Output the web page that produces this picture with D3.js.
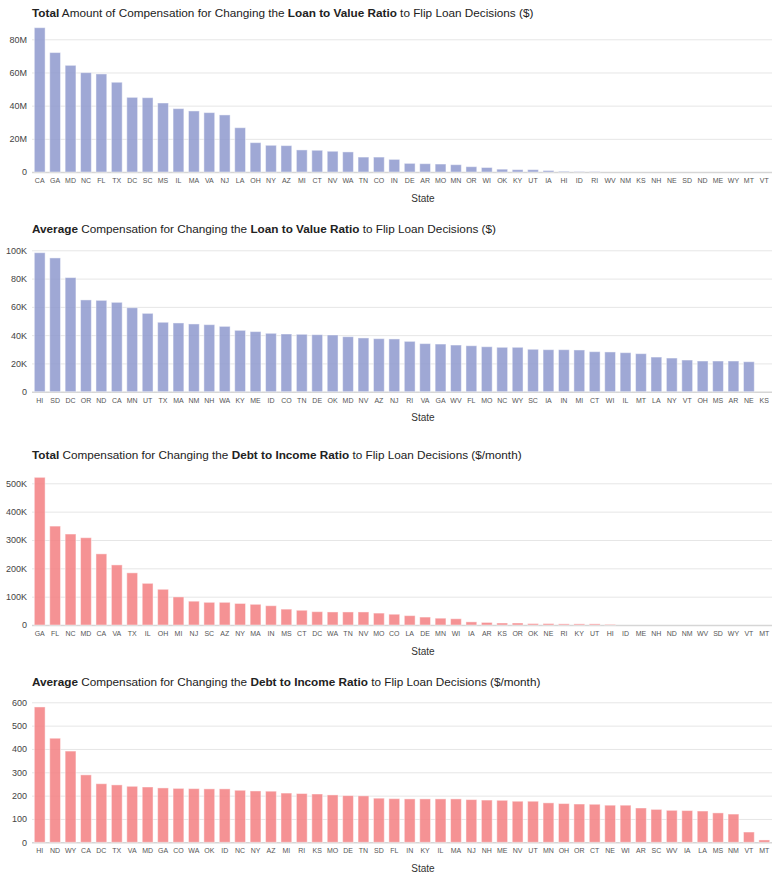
<!DOCTYPE html>
<html>
<head>
<meta charset="utf-8">
<script src="https://cdn.jsdelivr.net/npm/d3@7"></script>
<style>
  html, body { margin: 0; padding: 0; background: #fff; }
  svg { display: block; font-family: "Liberation Sans", Arial, Helvetica, sans-serif; }
</style>
</head>
<body>
<svg id="chart" width="781" height="876"></svg>
<script>
// ---------- DATA ----------
const ltvTotalStates = ["CA","GA","MD","NC","FL","TX","DC","SC","MS","IL","MA","VA","NJ","LA","OH","NY","AZ","MI","CT","NV","WA","TN","CO","IN","DE","AR","MO","MN","OR","WI","OK","KY","UT","IA","HI","ID","RI","WV","NM","KS","NH","NE","SD","ND","ME","WY","MT","VT"];
const ltvTotalValues = [87.0e6,72.0e6,64.3e6,59.9e6,59.1e6,54.1e6,45.0e6,44.8e6,41.6e6,38.2e6,36.8e6,35.8e6,34.4e6,26.7e6,17.7e6,16.1e6,15.9e6,13.3e6,13.1e6,12.5e6,12.1e6,9.0e6,9.0e6,7.6e6,5.2e6,5.0e6,4.8e6,4.4e6,3.2e6,2.7e6,1.7e6,1.4e6,1.4e6,0.9e6,0.4e6,0.2e6,0.2e6,0,0,0,0,0,0,0,0,0,0,0];
const ltvTotalTicks = [0, 20e6, 40e6, 60e6, 80e6];
const ltvTotalTickLabels = ["0","20M","40M","60M","80M"];

const ltvAvgStates = ["HI","SD","DC","OR","ND","CA","MN","UT","TX","MA","NM","NH","WA","KY","ME","ID","CO","TN","DE","OK","MD","NV","AZ","NJ","RI","VA","GA","WV","FL","MO","NC","WY","SC","IA","IN","MI","CT","WI","IL","MT","LA","NY","VT","OH","MS","AR","NE","KS"];
const ltvAvgValues = [98.3e3,94.6e3,80.7e3,64.9e3,64.6e3,63.2e3,59.4e3,55.4e3,49.1e3,48.6e3,47.9e3,47.4e3,46.2e3,43.4e3,42.5e3,41.3e3,40.8e3,40.6e3,40.3e3,40.1e3,38.9e3,38.0e3,37.5e3,37.3e3,35.6e3,34.0e3,33.7e3,33.0e3,32.5e3,31.8e3,31.4e3,31.4e3,30.0e3,29.7e3,29.7e3,29.5e3,28.3e3,28.1e3,27.6e3,26.9e3,24.5e3,23.8e3,22.4e3,21.7e3,21.7e3,21.7e3,21.2e3,0];
const ltvAvgTicks = [0, 20e3, 40e3, 60e3, 80e3, 100e3];
const ltvAvgTickLabels = ["0","20K","40K","60K","80K","100K"];

const dtiTotalStates = ["GA","FL","NC","MD","CA","VA","TX","IL","OH","MI","NJ","SC","AZ","NY","MA","IN","MS","CT","DC","WA","TN","NV","MO","CO","LA","DE","MN","WI","IA","AR","KS","OR","OK","NE","RI","KY","UT","HI","ID","ME","NH","ND","NM","WV","SD","WY","VT","MT"];
const dtiTotalValues = [521e3,349e3,321e3,308e3,251e3,212e3,184e3,147e3,126e3,99e3,84e3,80e3,80e3,76e3,73e3,68e3,56e3,52e3,47e3,46e3,46e3,46e3,42e3,38e3,33e3,28e3,24e3,22e3,11e3,9e3,7e3,7e3,5e3,5e3,4e3,4e3,4e3,2e3,0,0,0,0,0,0,0,0,0,0];
const dtiTotalTicks = [0, 100e3, 200e3, 300e3, 400e3, 500e3];
const dtiTotalTickLabels = ["0","100K","200K","300K","400K","500K"];

const dtiAvgStates = ["HI","ND","WY","CA","DC","TX","VA","MD","GA","CO","WA","OK","ID","NC","NY","AZ","MI","RI","KS","MO","DE","TN","SD","FL","IN","KY","IL","MA","NJ","NH","ME","NV","UT","MN","OH","OR","CT","NE","WI","AR","SC","WV","IA","LA","MS","NM","VT","MT"];
const dtiAvgValues = [580,446,391,289,251,246,240,237,233,231,230,229,229,223,220,219,211,209,207,203,200,199,189,187,186,186,186,186,183,181,180,176,176,169,166,164,163,159,159,147,141,137,136,134,126,121,44,10];
const dtiAvgTicks = [0, 100, 200, 300, 400, 500, 600];
const dtiAvgTickLabels = ["0","100","200","300","400","500","600"];

// ---------- LAYOUT ----------
const svg = d3.select("#chart");
const plotLeft = 32, plotRight = 772;
const blue = "#8e99ce", red = "#f37f81";

const panels = [
  { title: [["Total", true], [" Amount of Compensation for Changing the ", false], ["Loan to Value Ratio", true], [" to Flip Loan Decisions ($)", false]],
    states: ltvTotalStates, values: ltvTotalValues, ticks: ltvTotalTicks, tickLabels: ltvTotalTickLabels,
    color: blue, titleY: 17, zeroY: 172, topY: 39.3 },
  { title: [["Average", true], [" Compensation for Changing the ", false], ["Loan to Value Ratio", true], [" to Flip Loan Decisions ($)", false]],
    states: ltvAvgStates, values: ltvAvgValues, ticks: ltvAvgTicks, tickLabels: ltvAvgTickLabels,
    color: blue, titleY: 233, zeroY: 391.7, topY: 250.3 },
  { title: [["Total", true], [" Compensation for Changing the ", false], ["Debt to Income Ratio", true], [" to Flip Loan Decisions ($/month)", false]],
    states: dtiTotalStates, values: dtiTotalValues, ticks: dtiTotalTicks, tickLabels: dtiTotalTickLabels,
    color: red, titleY: 459, zeroY: 625, topY: 483.3 },
  { title: [["Average", true], [" Compensation for Changing the ", false], ["Debt to Income Ratio", true], [" to Flip Loan Decisions ($/month)", false]],
    states: dtiAvgStates, values: dtiAvgValues, ticks: dtiAvgTicks, tickLabels: dtiAvgTickLabels,
    color: red, titleY: 686, zeroY: 842.3, topY: 702.3 }
];

panels.forEach(p => {
  const g = svg.append("g");
  const x = d3.scaleBand().domain(p.states).range([plotLeft, plotRight]).paddingInner(0.3).paddingOuter(0.15);
  const topTick = p.ticks[p.ticks.length - 1];
  const y = d3.scaleLinear().domain([0, topTick]).range([p.zeroY, p.topY]);

  // title
  const t = g.append("text").attr("x", plotLeft).attr("y", p.titleY)
    .attr("font-size", 11.75).attr("fill", "#222");
  p.title.forEach(([s, b]) => t.append("tspan").text(s).attr("font-weight", b ? "bold" : "normal"));

  // gridlines + y labels via axis
  const yAxis = d3.axisLeft(y).tickValues(p.ticks).tickFormat((d, i) => p.tickLabels[i])
    .tickSize(-(plotRight - plotLeft)).tickPadding(6);
  const ya = g.append("g").attr("transform", `translate(${plotLeft},0)`).call(yAxis);
  ya.select(".domain").remove();
  ya.selectAll(".tick line").attr("stroke", d => d === 0 ? "#d6d6d6" : "#e6e6e6")
    .attr("stroke-width", d => d === 0 ? 1.5 : 1);
  ya.selectAll(".tick text").attr("fill", "#444").attr("font-size", 9)
    .attr("font-family", "'Liberation Sans', Arial, sans-serif").attr("x", -5);

  // bars
  g.append("g").selectAll("rect").data(p.states.map((s, i) => ({ s, v: p.values[i] })))
    .join("rect")
    .attr("x", d => x(d.s))
    .attr("width", x.bandwidth())
    .attr("y", d => y(d.v))
    .attr("height", d => p.zeroY - y(d.v))
    .attr("fill", p.color).attr("fill-opacity", 0.85)
    .attr("stroke", "#fff").attr("stroke-opacity", 0.45).attr("stroke-width", 1);

  // x axis labels
  const xAxis = d3.axisBottom(x).tickSize(0).tickPadding(6);
  const xa = g.append("g").attr("transform", `translate(0,${p.zeroY})`).call(xAxis);
  xa.select(".domain").remove();
  xa.selectAll(".tick text").attr("fill", "#555").attr("font-size", 7)
    .attr("font-family", "'Liberation Sans', Arial, sans-serif");

  // axis title
  g.append("text").attr("x", 423).attr("y", p.zeroY + 29.5).attr("text-anchor", "middle")
    .attr("font-size", 10).attr("fill", "#333").text("State");
});
</script>
</body>
</html>
